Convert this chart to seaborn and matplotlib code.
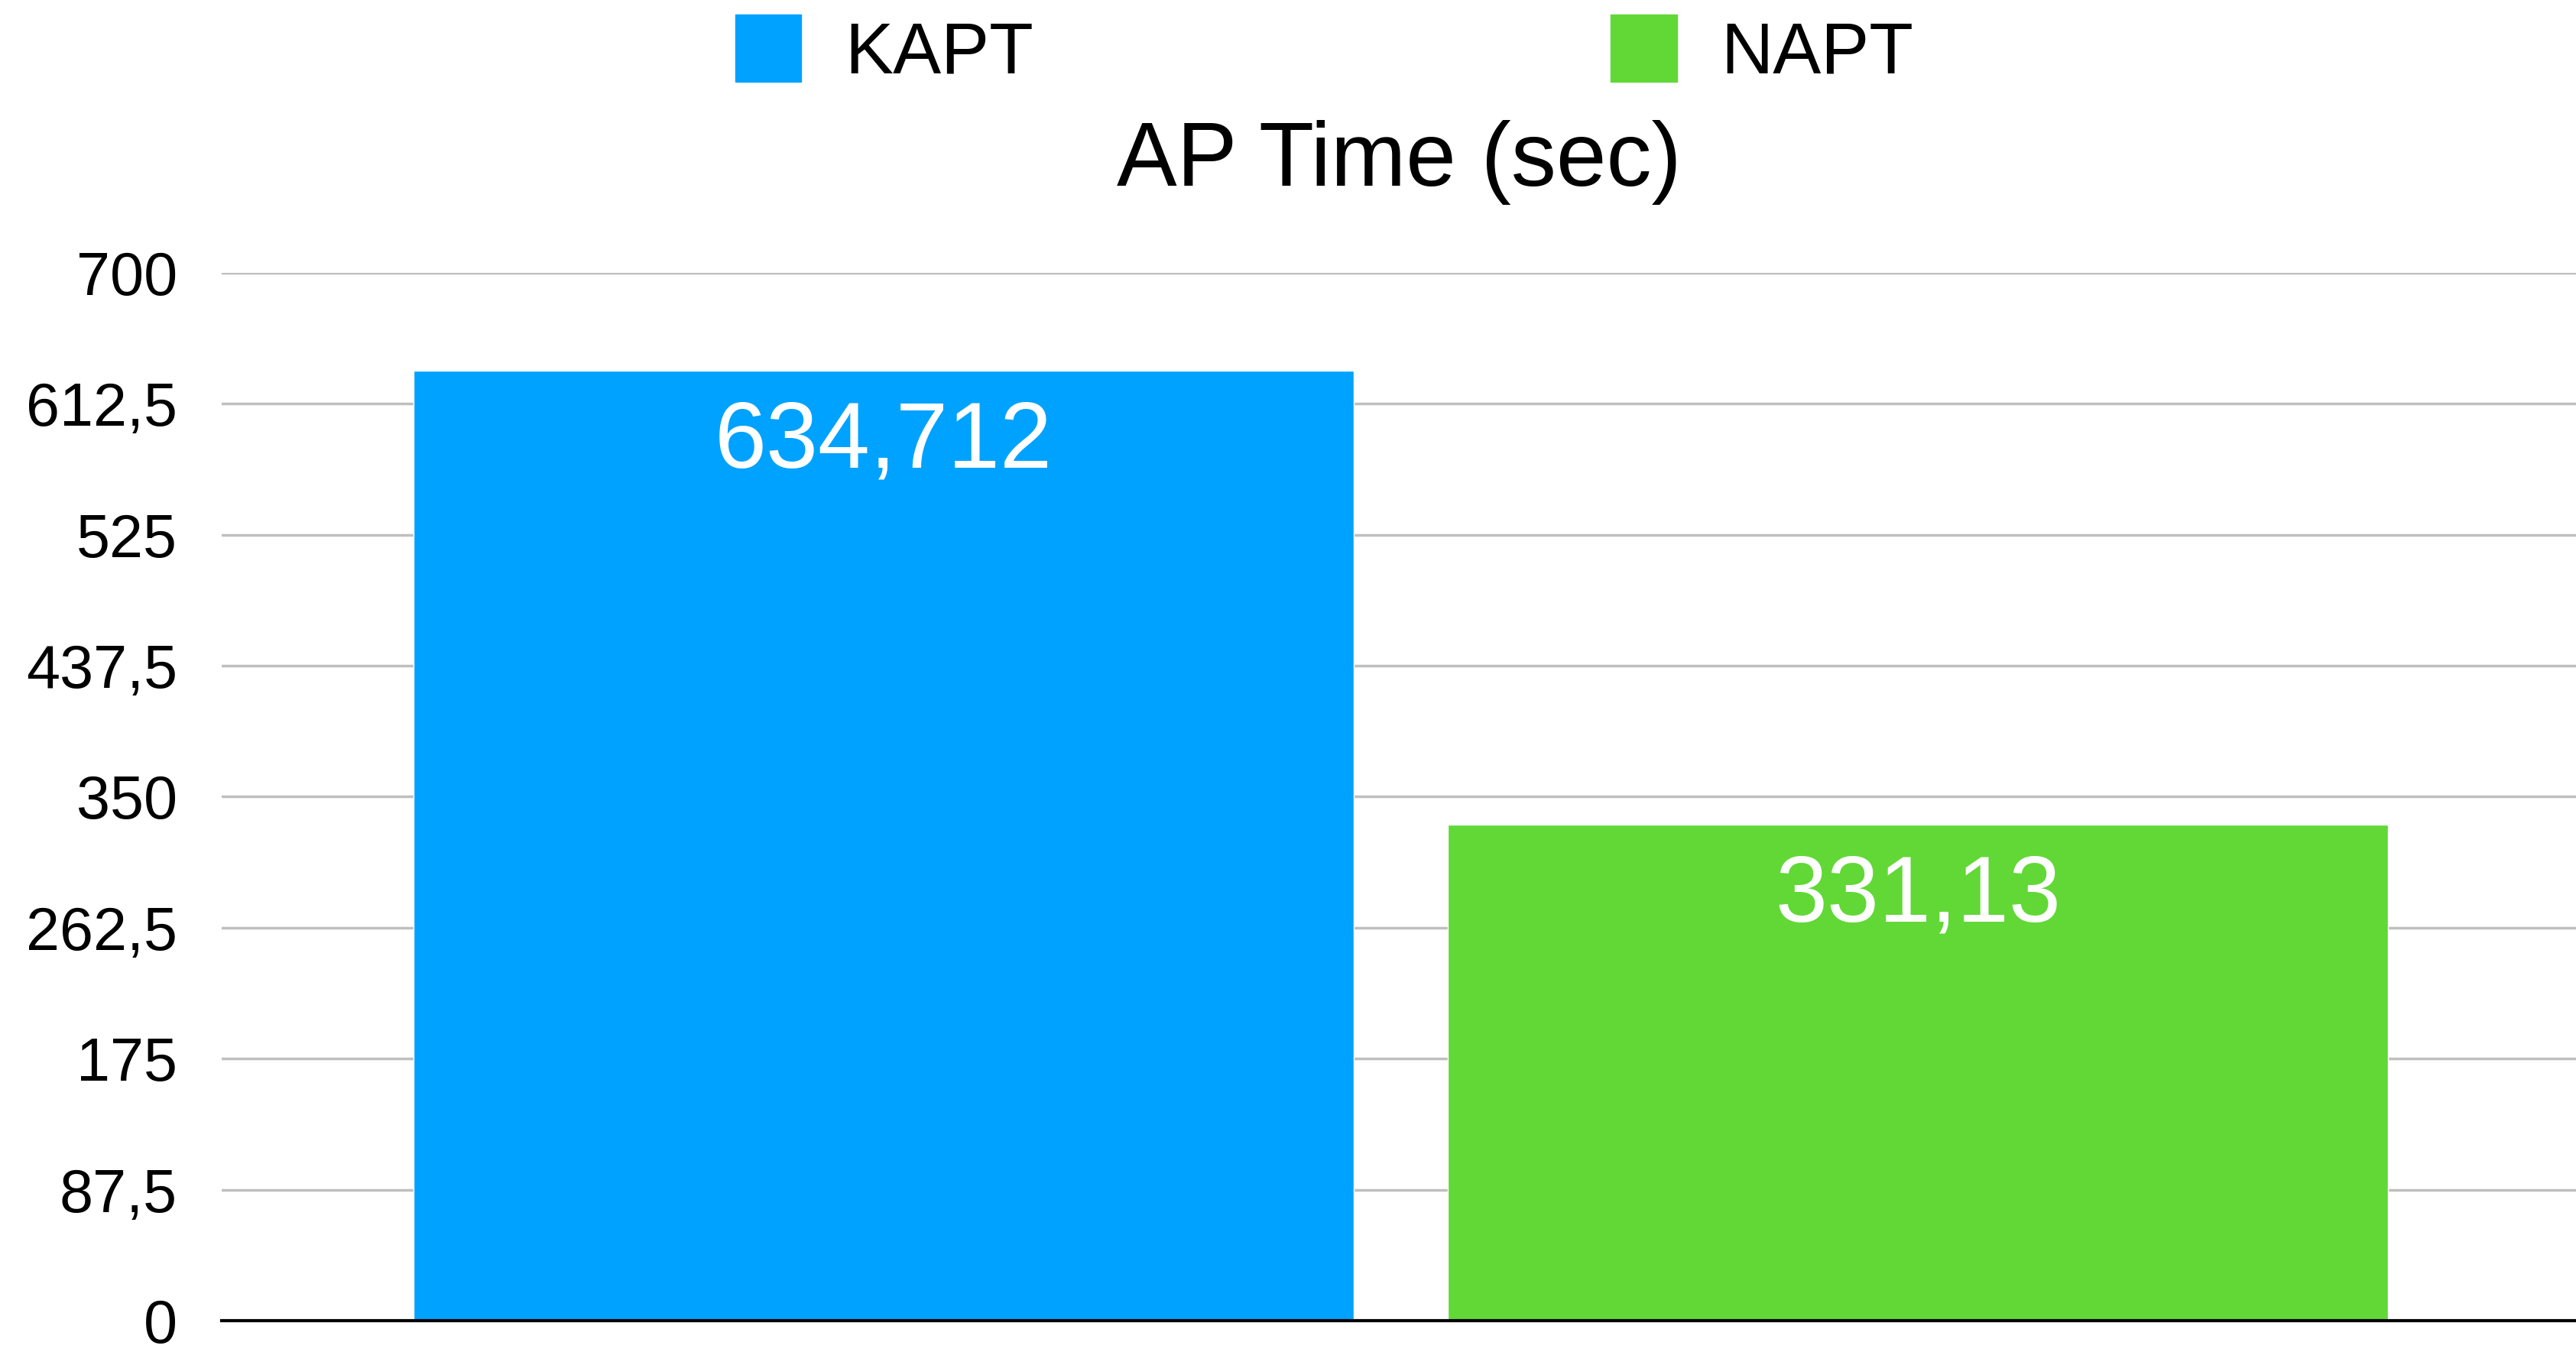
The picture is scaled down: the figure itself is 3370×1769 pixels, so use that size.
import matplotlib
matplotlib.use("Agg")
import matplotlib.pyplot as plt
import matplotlib.patches as mpatches
import seaborn as sns
import pandas as pd

categories = ["KAPT", "NAPT"]
values = [634.712, 331.13]
value_labels = ["634,712", "331,13"]
colors = ["#00A2FF", "#61D836"]
yticks = [0, 87.5, 175, 262.5, 350, 437.5, 525, 612.5, 700]
ytick_labels = ["0", "87,5", "175", "262,5", "350", "437,5", "525", "612,5", "700"]

sns.set_theme(style="white")
plt.rcParams["font.family"] = ["Liberation Sans", "DejaVu Sans"]
plt.rcParams["text.color"] = "black"
plt.rcParams["ytick.color"] = "black"
plt.rcParams["ytick.labelcolor"] = "black"

df = pd.DataFrame({"cat": categories, "val": values})

fig = plt.figure(figsize=(33.7, 17.69), dpi=100)
ax = fig.add_axes([0.0861, 0.0232, 0.9139, 0.7750])

sns.barplot(data=df, x="cat", y="val", hue="cat", palette=colors,
            width=0.909, legend=False, ax=ax, saturation=1, zorder=3)

ax.set_xlim(-0.64, 1.636)
ax.set_ylim(0, 700)
ax.set_yticks(yticks)
ax.set_yticklabels(ytick_labels, fontsize=57, color="black")
ax.set_xticks([])
ax.set_xlabel("")
ax.set_ylabel("")
ax.tick_params(axis="y", length=0, pad=42)
ax.yaxis.grid(True, color="#BFBFBF", linewidth=2.5, zorder=0)
for s in ["top", "left", "right"]:
    ax.spines[s].set_visible(False)
ax.spines["bottom"].set_color("black")
ax.spines["bottom"].set_linewidth(3)
ax.spines["bottom"].set_zorder(4)

for i, (v, lab) in enumerate(zip(values, value_labels)):
    ax.annotate(lab, (i, v), xytext=(0, -68), textcoords="offset points",
                ha="center", va="center", color="white", fontsize=88, zorder=5)

fig.text(0.543, 1 - 243 / 1769, "AP Time (sec)", ha="center", va="baseline",
         fontsize=85, color="black")

handles = [mpatches.Patch(color=c, label=l) for c, l in zip(colors, categories)]
leg = fig.legend(handles=handles, loc="center", bbox_to_anchor=(0.514, 0.962), ncol=2,
                 frameon=False, fontsize=68, handlelength=0.92, handleheight=1.05,
                 handletextpad=0.6, columnspacing=8.0, borderpad=0)
for t in leg.get_texts():
    t.set_color("black")

fig.savefig("out.png", dpi=100)
